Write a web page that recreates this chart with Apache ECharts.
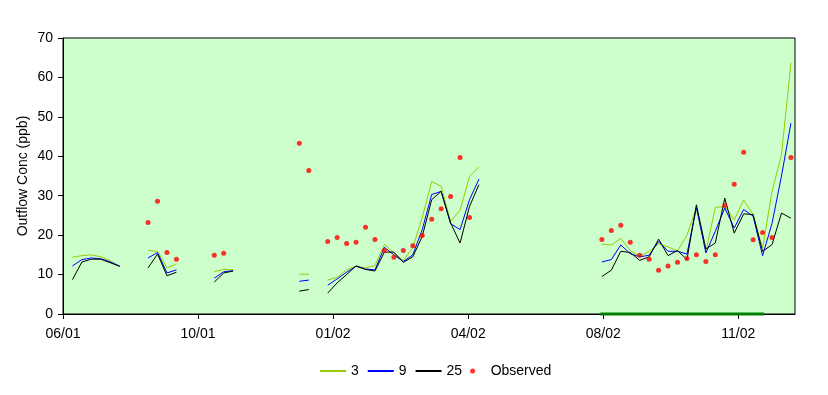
<!DOCTYPE html>
<html><head><meta charset="utf-8">
<script src="https://cdn.jsdelivr.net/npm/echarts@6/dist/echarts.min.js"></script>
<style>html,body{margin:0;padding:0;background:#fff}#c{width:828px;height:395px}</style>
</head><body><div id="c"></div>
<script>
// x axis: days since axis start, ticks every 100 days
const axisStart = '2001-06-28';
const axisDays = 542;
const xTickLabels = ['06/01', '10/01', '01/02', '04/02', '08/02', '11/02'];
const yTickValues = [0, 10, 20, 30, 40, 50, 60, 70];

const sampleDates = [
  '2001-07-05','2001-07-12','2001-07-19','2001-07-26','2001-08-02','2001-08-09','2001-08-16','2001-08-23',
  '2001-08-30','2001-09-06','2001-09-13','2001-09-20','2001-09-27','2001-10-04','2001-10-11','2001-10-18',
  '2001-10-25','2001-11-01','2001-11-08','2001-11-15','2001-11-22','2001-11-29','2001-12-06','2001-12-13',
  '2001-12-20','2001-12-27','2002-01-03','2002-01-10','2002-01-17','2002-01-24','2002-01-31','2002-02-07',
  '2002-02-14','2002-02-21','2002-02-28','2002-03-07','2002-03-14','2002-03-21','2002-03-28','2002-04-04',
  '2002-04-11','2002-04-18','2002-04-25','2002-05-02','2002-05-09','2002-05-16','2002-05-23','2002-05-30',
  '2002-06-06','2002-06-13','2002-06-20','2002-06-27','2002-07-04','2002-07-11','2002-07-18','2002-07-25',
  '2002-08-01','2002-08-08','2002-08-15','2002-08-22','2002-08-29','2002-09-05','2002-09-12','2002-09-19',
  '2002-09-26','2002-10-03','2002-10-10','2002-10-17','2002-10-24','2002-10-31','2002-11-07','2002-11-14',
  '2002-11-21','2002-11-28','2002-12-05','2002-12-12','2002-12-19'
];

const model3 = [
  14.4, 14.8, 15.0, 14.5, 13.5, 12.1, null, null,
  16.1, 15.9, 11.7, 12.7, null, null, null, 10.7,
  11.3, 11.2, null, null, null, null, null, null,
  10.1, 10.1, null, 8.6, 9.3, 11.2, 12.2, 11.7,
  12.3, 17.6, 15.5, 13.6, 16.8, 24.5, 33.6, 32.4,
  23.5, 26.3, 34.9, 37.3, null, null, null, null,
  null, null, null, null, null, null, null, null,
  17.7, 17.5, 19.2, 16.1, 14.6, 15.9, 17.8, 17.0,
  16.0, 20.0, 27.0, 15.9, 27.0, 27.3, 23.9, 28.9,
  25.2, 16.7, 31.1, 40.4, 63.7
];
const model9 = [
  12.2, 13.8, 14.2, 14.0, 13.2, 12.1, null, null,
  14.2, 15.6, 10.4, 11.2, null, null, null, 9.1,
  10.7, 11.0, null, null, null, null, null, null,
  8.3, 8.6, null, 7.3, 8.9, 10.6, 12.1, 11.4,
  11.2, 16.9, 15.0, 13.3, 15.0, 21.4, 30.3, 31.1,
  22.9, 21.4, 29.0, 34.2, null, null, null, null,
  null, null, null, null, null, null, null, null,
  13.2, 13.8, 17.5, 15.3, 14.5, 14.9, 18.4, 15.9,
  15.9, 15.2, 27.0, 15.5, 21.0, 26.9, 21.8, 26.5,
  24.8, 14.8, 23.0, 35.0, 48.4
];
const model25 = [
  8.7, 13.2, 13.9, 13.9, 13.0, 12.1, null, null,
  11.7, 15.2, 9.7, 10.6, null, null, null, 8.1,
  10.4, 10.9, null, null, null, null, null, null,
  5.8, 6.2, null, 5.3, 7.9, 10.0, 12.2, 11.3,
  10.9, 15.7, 15.7, 13.1, 14.5, 19.7, 29.0, 31.1,
  23.1, 18.0, 27.3, 32.8, null, null, null, null,
  null, null, null, null, null, null, null, null,
  9.5, 11.1, 15.9, 15.6, 13.6, 14.5, 19.0, 14.8,
  16.1, 13.8, 27.7, 16.5, 18.0, 29.4, 20.5, 25.4,
  25.2, 15.9, 17.6, 25.6, 24.3
];
const observed = [
  null, null, null, null, null, null, null, null,
  23.2, 28.6, 15.6, 13.9, null, null, null, 14.9,
  15.4, null, null, null, null, null, null, null,
  43.3, 36.4, null, 18.4, 19.4, 17.9, 18.2, 22.0,
  18.9, 16.1, 14.4, 16.1, 17.3, 19.9, 24.0, 26.7,
  29.8, 39.7, 24.5, null, null, null, null, null,
  null, null, null, null, null, null, null, null,
  18.9, 21.2, 22.5, 18.2, 14.9, 13.9, 11.1, 12.2,
  13.1, 14.1, 15.0, 13.3, 15.0, 27.5, 32.9, 41.0,
  18.8, 20.7, 19.4, null, 39.7
];
const periodBar = [
  null, null, null, null, null, null, null, null,
  null, null, null, null, null, null, null, null,
  null, null, null, null, null, null, null, null,
  null, null, null, null, null, null, null, null,
  null, null, null, null, null, null, null, null,
  null, null, null, null, null, null, null, null,
  null, null, null, null, null, null, null, null,
  0, 0, 0, 0, 0, 0, 0, 0,
  0, 0, 0, 0, 0, 0, 0, 0,
  0, 0, null, null, null
];

const DAY = 86400000;
const t0 = Date.parse(axisStart);
const xDays = sampleDates.map(d => (Date.parse(d) - t0) / DAY);
const pairs = vals => xDays.map((x, i) => [x, vals[i] === null ? '-' : vals[i]]);
const tickVals = xTickLabels.map((_, i) => i * 100);

const font = 'Liberation Sans, Arial, sans-serif';
const chart = echarts.init(document.getElementById('c'), null, { renderer: 'canvas' });
chart.setOption({
  animation: false,
  backgroundColor: '#ffffff',
  textStyle: { fontFamily: font },
  grid: {
    left: 63, top: 38, width: 732, height: 276,
    show: true, backgroundColor: '#CCFFCC', borderColor: '#000000', borderWidth: 1
  },
  legend: {
    top: 359, left: 314,
    itemWidth: 26, itemHeight: 5, itemGap: 8,
    textStyle: { fontFamily: font, fontSize: 14, color: '#000000' },
    data: [
      { name: '3', itemStyle: { opacity: 0 } },
      { name: '9', itemStyle: { opacity: 0 } },
      { name: '25', itemStyle: { opacity: 0 } },
      { name: 'Observed', icon: 'circle' }
    ]
  },
  xAxis: {
    type: 'value', min: 0, max: axisDays, interval: 100,
    splitLine: { show: false },
    axisLine: { show: true, onZero: false, lineStyle: { color: '#000000', width: 1 } },
    axisTick: { show: true, inside: false, length: 5, customValues: tickVals, lineStyle: { color: '#000000' } },
    axisLabel: {
      margin: 13, fontSize: 14, color: '#000000', fontFamily: font,
      customValues: tickVals,
      formatter: v => (v % 100 === 0 && xTickLabels[v / 100] !== undefined) ? xTickLabels[v / 100] : ''
    }
  },
  yAxis: {
    type: 'value', min: 0, max: 70, interval: 10,
    name: 'Outflow Conc (ppb)', nameLocation: 'middle', nameGap: 33, nameMoveOverlap: false,
    nameTextStyle: { fontSize: 14, color: '#000000', fontFamily: font },
    splitLine: { show: false },
    axisLine: { show: true, lineStyle: { color: '#000000', width: 1 } },
    axisTick: { show: true, inside: false, length: 5, lineStyle: { color: '#000000' } },
    axisLabel: { margin: 10, fontSize: 14, color: '#000000', fontFamily: font,
      formatter: v => yTickValues.includes(v) ? String(v) : '' }
  },
  series: [
    {
      name: 'period', type: 'line', data: pairs(periodBar), showSymbol: false, symbol: 'none',
      lineStyle: { color: '#008000', width: 3, cap: 'square' }, itemStyle: { color: '#008000' },
      clip: false, z: 5, silent: true, connectNulls: false
    },
    {
      name: '3', type: 'line', data: pairs(model3), symbol: 'none', connectNulls: false,
      lineStyle: { color: '#99CC00', width: 1 }, itemStyle: { color: '#99CC00' }, z: 2
    },
    {
      name: '9', type: 'line', data: pairs(model9), symbol: 'none', connectNulls: false,
      lineStyle: { color: '#0000FF', width: 1 }, itemStyle: { color: '#0000FF' }, z: 3
    },
    {
      name: '25', type: 'line', data: pairs(model25), symbol: 'none', connectNulls: false,
      lineStyle: { color: '#000000', width: 1 }, itemStyle: { color: '#000000' }, z: 4
    },
    {
      name: 'Observed', type: 'scatter', data: pairs(observed), symbol: 'circle', symbolSize: 5,
      itemStyle: { color: '#FF0000' }, z: 6
    }
  ]
});
</script>
</body></html>
